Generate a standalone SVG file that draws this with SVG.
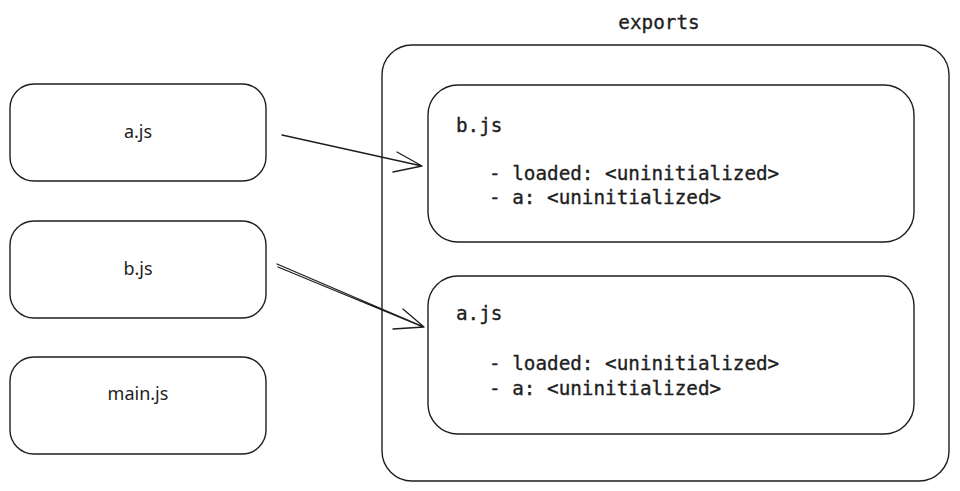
<svg xmlns="http://www.w3.org/2000/svg" width="960" height="491" viewBox="0 0 960 491">
<style>
.box{fill:#fff;stroke:#1e1e1e;stroke-width:1.4}
.hand{font-family:"Noto Sans","Liberation Sans",sans-serif;font-size:18px;fill:#1e1e1e;text-anchor:middle}
.mono{font-family:"DejaVu Sans Mono","Liberation Mono",monospace;font-size:19.3px;fill:#1e1e1e;stroke:#1e1e1e;stroke-width:0.35}
.ln{fill:none;stroke:#1e1e1e;stroke-width:1.3;stroke-linecap:round}
</style>
<rect width="960" height="491" fill="#fff"/>
<g id="exports">
<rect class="box" x="382" y="45" width="567" height="436" rx="30"/>
<text class="mono" x="659" y="29" text-anchor="middle">exports</text>
</g>
<g id="node-a">
<rect class="box" x="10" y="84" width="256" height="97" rx="24"/>
<text class="hand" x="138" y="138">a.js</text>
</g>
<g id="node-b">
<rect class="box" x="10" y="221" width="256" height="97" rx="24"/>
<text class="hand" x="138" y="275">b.js</text>
</g>
<g id="node-main">
<rect class="box" x="10" y="357" width="256" height="97" rx="24"/>
<text class="hand" x="138" y="400">main.js</text>
</g>
<g id="exports-b">
<rect class="box" x="428" y="85" width="486" height="157" rx="30"/>
<text class="mono" x="456" y="132">b.js</text>
<text class="mono" x="489" y="180" xml:space="preserve">- loaded: &lt;uninitialized&gt;</text>
<text class="mono" x="489" y="204" xml:space="preserve">- a: &lt;uninitialized&gt;</text>
</g>
<g id="exports-a">
<rect class="box" x="428" y="276" width="486" height="158" rx="30"/>
<text class="mono" x="456" y="320">a.js</text>
<text class="mono" x="489" y="370" xml:space="preserve">- loaded: &lt;uninitialized&gt;</text>
<text class="mono" x="489" y="395" xml:space="preserve">- a: &lt;uninitialized&gt;</text>
</g>
<g id="connectors">
<path class="ln" d="M282 135 L422 166 M397 152 L422 166 M393 172 L422 166"/>
<path class="ln" d="M277 264 L424 327 M278 267 L423 327 M403 309 L424 327 M393 329 L424 327"/>
</g>
</svg>
